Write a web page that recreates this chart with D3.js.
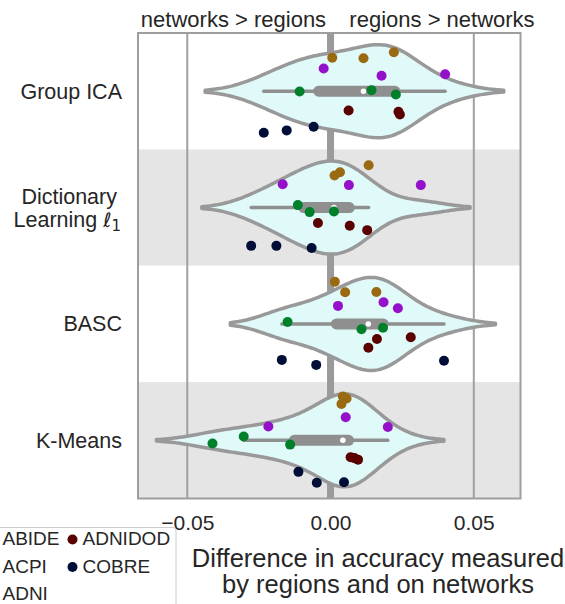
<!DOCTYPE html>
<html>
<head>
<meta charset="utf-8">
<script src="https://cdn.jsdelivr.net/npm/d3@7"></script>
<style>
  body { margin: 0; background: #fff; }
  svg { display: block; }
  text { font-family: "Liberation Sans", Arial, sans-serif; fill: #262626; }
</style>
</head>
<body>
<svg id="chart" width="565" height="604"></svg>
<script>
// Methods (rows) and datasets (hue)
const methods = ["Group ICA", "Dictionary Learning ℓ1", "BASC", "K-Means"];
const datasets = ["ABIDE", "ACPI", "ADNI", "ADNIDOD", "COBRE"];
const datasetColors = ["#9a6a12", "#9510c9", "#00802a", "#5a0000", "#000d36"];

// Accuracy difference (regions - networks), three runs per dataset, in dataset order
const groupICA = [[0.0006, 0.0115, 0.0221], [-0.0024, 0.0178, 0.0400], [-0.0108, 0.0143, 0.0228], [0.0063, 0.0237, 0.0242], [-0.0233, -0.0153, -0.0059]];
const dictLearning = [[0.0133, 0.0014, 0.0033], [-0.0167, 0.0064, 0.0315], [-0.0114, -0.0073, 0.0012], [-0.0044, 0.0067, 0.0128], [-0.0277, -0.0189, -0.0066]];
const basc = [[0.0015, 0.0051, 0.0160], [0.0026, 0.0185, 0.0235], [-0.0150, 0.0108, 0.0183], [0.0162, 0.0132, 0.0280], [-0.0170, -0.0050, 0.0396]];
const kMeans = [[0.0043, 0.0056, 0.0038], [-0.0217, 0.0053, 0.0200], [-0.0412, -0.0303, -0.0141], [0.0070, 0.0096, 0.0083], [-0.0112, -0.0048, 0.0047]];
const methodValues = [groupICA, dictLearning, basc, kMeans];

// Strip-plot jitter of each point, as a fraction of the row height
const jitterGroupICA = [[0.033, 0.037, -0.015], [-0.035, 0.027, 0.014], [0.003, -0.009, 0.028], [0.006, 0.017, 0.040], [0.037, 0.017, -0.015]];
const jitterDict = [[-0.044, 0.045, 0.016], [-0.041, -0.033, -0.033], [-0.021, 0.039, 0.034], [-0.028, -0.003, 0.034], [0.009, 0.009, 0.028]];
const jitterBasc = [[-0.043, 0.048, 0.045], [0.005, -0.027, 0.025], [-0.017, 0.045, 0.032], [-0.031, 0.044, -0.045], [-0.011, 0.032, -0.003]];
const jitterKMeans = [[-0.057, -0.040, 0.008], [0.042, -0.038, 0.045], [0.028, -0.032, 0.037], [-0.014, 0.006, -0.007], [-0.049, 0.045, 0.040]];
const methodJitter = [jitterGroupICA, jitterDict, jitterBasc, jitterKMeans];

const xTicks = [-0.05, 0, 0.05];
const sideLabels = ["networks > regions", "regions > networks"];
const xTitle = ["Difference in accuracy measured", "by regions and on networks"];

(function draw() {
  const svg = d3.select("#chart");
  const plotLeft = 138, plotRight = 520.5, plotTop = 33, plotBottom = 498.5;

  const x = d3.scaleLinear().domain([-0.0672, 0.0663]).range([plotLeft, plotRight]);
  const y = d3.scaleBand().domain(methods).range([plotTop, plotBottom]).padding(0);
  const bw = y.bandwidth();

  // Alternating row shading
  svg.append("g").selectAll("rect").data(methods).join("rect")
    .attr("x", plotLeft).attr("width", plotRight - plotLeft)
    .attr("y", d => y(d)).attr("height", bw)
    .attr("fill", (d, i) => i % 2 ? "#e5e5e5" : "#fff");

  // Reference lines
  svg.append("g").selectAll("line").data([-0.05, 0.05]).join("line")
    .attr("x1", d => x(d)).attr("x2", d => x(d))
    .attr("y1", plotTop).attr("y2", plotBottom)
    .attr("stroke", "#a0a0a0").attr("stroke-width", 2);
  svg.append("line")
    .attr("x1", x(0)).attr("x2", x(0)).attr("y1", plotTop).attr("y2", plotBottom)
    .attr("stroke", "#9a9a9a").attr("stroke-width", 7);

  // Frame
  svg.append("rect")
    .attr("x", plotLeft).attr("y", plotTop)
    .attr("width", plotRight - plotLeft).attr("height", plotBottom - plotTop)
    .attr("fill", "none").attr("stroke", "#9e9e9e").attr("stroke-width", 2);

  // Gaussian KDE with Scott's bandwidth, cut = 2
  function violinCurve(vals) {
    const n = vals.length;
    const sd = d3.deviation(vals);
    const h = sd * Math.pow(n, -0.2);
    const lo = d3.min(vals) - 2 * h, hi = d3.max(vals) + 2 * h;
    const grid = d3.range(100).map(i => lo + (hi - lo) * i / 99);
    const dens = grid.map(g => d3.sum(vals, v => Math.exp(-0.5 * ((g - v) / h) ** 2)));
    const m = d3.max(dens);
    return grid.map((g, i) => [g, dens[i] / m]);
  }

  const half = 0.4 * bw;
  const lineGen = d3.line().x(d => d[0]).y(d => d[1]);

  methods.forEach((method, mi) => {
    const cy = y(method) + bw / 2;
    const all = methodValues[mi].flat();
    const curve = violinCurve(all);
    const upper = curve.map(([g, d]) => [x(g), cy - d * half]);
    const lower = curve.slice().reverse().map(([g, d]) => [x(g), cy + d * half]);
    svg.append("path")
      .attr("d", lineGen(upper.concat(lower)) + "Z")
      .attr("fill", "#e0f9f9").attr("stroke", "#999").attr("stroke-width", 3.5)
      .attr("stroke-linejoin", "round");

    // Inner box: whiskers, interquartile bar, median
    const sorted = all.slice().sort(d3.ascending);
    const q1 = d3.quantileSorted(sorted, 0.25), q3 = d3.quantileSorted(sorted, 0.75);
    const med = d3.quantileSorted(sorted, 0.5);
    const lim = 1.5 * (q3 - q1);
    const w1 = d3.min(sorted.filter(v => v >= q1 - lim));
    const w2 = d3.max(sorted.filter(v => v <= q3 + lim));
    svg.append("line").attr("x1", x(w1)).attr("x2", x(w2)).attr("y1", cy).attr("y2", cy)
      .attr("stroke", "#8f8f8f").attr("stroke-width", 3.5).attr("stroke-linecap", "round");
    svg.append("line").attr("x1", x(q1)).attr("x2", x(q3)).attr("y1", cy).attr("y2", cy)
      .attr("stroke", "#8f8f8f").attr("stroke-width", 11).attr("stroke-linecap", "round");
    svg.append("circle").attr("cx", x(med)).attr("cy", cy).attr("r", 2.8).attr("fill", "#fff");
  });

  // Points, dodged by dataset
  const dodge = d3.scaleBand().domain(datasets).range([-0.4, 0.4]);
  methods.forEach((method, mi) => {
    const y0 = y(method);
    datasets.forEach((ds, di) => {
      const vals = methodValues[mi][di];
      const jit = methodJitter[mi][di];
      svg.append("g").selectAll("circle").data(vals).join("circle")
        .attr("cx", d => x(d))
        .attr("cy", (d, k) => y0 + bw / 2 + (dodge(ds) + dodge.bandwidth() / 2 + jit[k]) * bw)
        .attr("r", 5)
        .attr("fill", datasetColors[di]);
    });
  });

  // X axis
  const xAxis = svg.append("g").attr("transform", `translate(0,${plotBottom})`)
    .call(d3.axisBottom(x).tickValues(xTicks).tickFormat(d3.format(".2f")).tickSize(0));
  xAxis.select(".domain").remove();
  xAxis.selectAll("text").attr("y", 31.5).attr("dy", 0)
    .style("font-size", "21px").style("font-family", "'Liberation Sans', Arial, sans-serif")
    .attr("fill", "#262626");

  // Y axis
  const yAxis = svg.append("g").attr("transform", `translate(${plotLeft},0)`)
    .call(d3.axisLeft(y).tickSize(0).tickPadding(16));
  yAxis.select(".domain").remove();
  yAxis.selectAll("text")
    .style("font-size", "21.5px").style("font-family", "'Liberation Sans', Arial, sans-serif")
    .attr("fill", "#262626").attr("dy", "7.5px")
    .each(function (d) {
      if (d !== methods[1]) return;
      const t = d3.select(this).text(null).attr("dy", null);
      t.append("tspan").attr("x", -21).attr("y", -3.5).text("Dictionary");
      t.append("tspan").attr("x", -17).attr("y", 19).text("Learning ");
      t.append("tspan").style("font-family", "'DejaVu Sans', sans-serif").style("font-style", "italic")
        .style("font-size", "20px").text("ℓ");
      t.append("tspan").style("font-family", "'DejaVu Sans', sans-serif").style("font-size", "15px")
        .attr("dy", 4).text("1");
    });

  // Direction labels above the plot
  svg.selectAll("text.side").data(sideLabels).join("text")
    .attr("class", "side")
    .attr("x", (d, i) => i ? 442 : 233.5).attr("y", 26.5)
    .attr("text-anchor", "middle").style("font-size", "22px").text(d => d);

  // X axis title
  svg.selectAll("text.xtitle").data(xTitle).join("text")
    .attr("class", "xtitle")
    .attr("x", 378).attr("y", (d, i) => 566.5 + i * 26.5)
    .attr("text-anchor", "middle").style("font-size", "25.5px").text(d => d);

  // Legend (two columns)
  const legend = svg.append("g");
  legend.append("rect").attr("x", -70).attr("y", 527.5).attr("width", 246).attr("height", 100)
    .attr("rx", 3).attr("fill", "#fff").attr("stroke", "#cccccc").attr("stroke-width", 1);
  datasets.forEach((ds, i) => {
    const col = i < 3 ? 0 : 1, row = i < 3 ? i : i - 3;
    const tx = col ? 82.5 : 2.5;
    const by = 545 + row * 27.5;
    legend.append("circle").attr("cx", tx - 10).attr("cy", by - 5.5).attr("r", 5)
      .attr("fill", datasetColors[i]);
    legend.append("text").attr("x", tx).attr("y", by).style("font-size", "19px").text(ds);
  });
})();
</script>
</body>
</html>
